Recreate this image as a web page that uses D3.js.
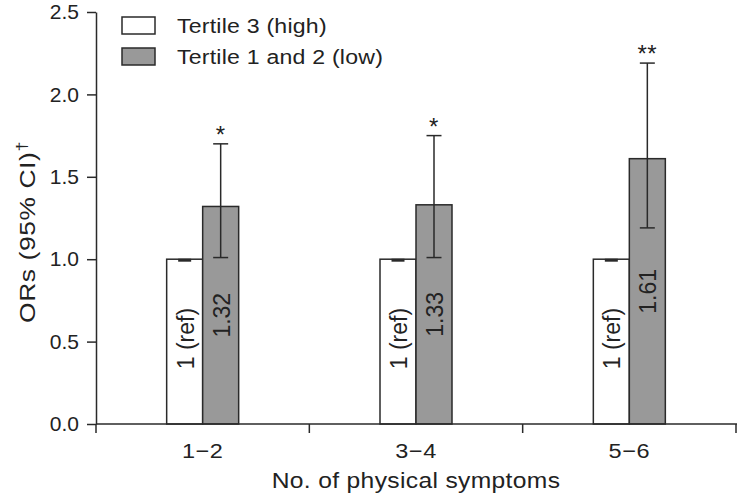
<!DOCTYPE html>
<html>
<head>
<meta charset="utf-8">
<script src="https://cdn.jsdelivr.net/npm/d3@7"></script>
<style>
  html, body { margin: 0; padding: 0; background: #fff; }
  svg { display: block; }
  text { font-family: "Liberation Sans", Arial, sans-serif; fill: #222; }
</style>
</head>
<body>
<svg id="chart" width="740" height="497"></svg>
<script>
// ---- data ----
const categories = ["1\u22122", "3\u22124", "5\u22126"];
const seriesNames = ["Tertile 3 (high)", "Tertile 1 and 2 (low)"];
const highValues = [1, 1, 1];
const lowValues = [1.32, 1.33, 1.61];
const highCILower = [1, 1, 1];
const highCIUpper = [1, 1, 1];
const lowCILower = [1.01, 1.01, 1.19];
const lowCIUpper = [1.70, 1.75, 2.19];
const highLabels = ["1 (ref)", "1 (ref)", "1 (ref)"];
const lowLabels = ["1.32", "1.33", "1.61"];
const significance = ["*", "*", "**"];
const yTicks = [0, 0.5, 1.0, 1.5, 2.0, 2.5];
const xTitle = "No. of physical symptoms";
const yTitle = "ORs (95% CI)";
const yTitleMark = "\u2020";

// ---- build table ----
const rows = [];
categories.forEach((c, i) => {
  rows.push({cat: c, series: seriesNames[0], value: highValues[i], lo: highCILower[i], hi: highCIUpper[i], label: highLabels[i], sig: null});
  rows.push({cat: c, series: seriesNames[1], value: lowValues[i], lo: lowCILower[i], hi: lowCIUpper[i], label: lowLabels[i], sig: significance[i]});
});

const fills = {[seriesNames[0]]: "#ffffff", [seriesNames[1]]: "#999999"};
const stroke = "#2a2a2a";
const wide = 1.12; // horizontal stretch of the wide sans face

const svg = d3.select("#chart");
const x0 = 96, x1 = 736, yTop = 12, yBot = 424;

const x = d3.scaleBand().domain(categories).range([x0, x1]).padding(0);
const xs = d3.scaleBand().domain(seriesNames).range([-36, 36]).padding(0);
const y = d3.scaleLinear().domain([0, 2.5]).range([yBot, yTop]);

// bars
const g = svg.append("g");
const bars = g.selectAll("g.bar").data(rows).join("g")
  .attr("transform", d => `translate(${x(d.cat) + x.bandwidth() / 2 + xs(d.series)},0)`);

bars.append("rect")
  .attr("x", 0)
  .attr("width", xs.bandwidth())
  .attr("y", d => y(d.value))
  .attr("height", d => y(0) - y(d.value))
  .attr("fill", d => fills[d.series])
  .attr("stroke", stroke)
  .attr("stroke-width", 1.5);

// error bars
const capW = 7.5;
const eb = bars.append("g")
  .attr("transform", `translate(${xs.bandwidth() / 2},0)`)
  .attr("stroke", stroke);
eb.filter(d => d.hi > d.lo).append("line")
  .attr("x1", 0).attr("x2", 0)
  .attr("y1", d => y(d.lo)).attr("y2", d => y(d.hi))
  .attr("stroke-width", 1.5);
eb.append("line")
  .attr("x1", d => d.hi > d.lo ? -capW : -6.5).attr("x2", d => d.hi > d.lo ? capW : 6.5)
  .attr("y1", d => y(d.hi) + (d.hi > d.lo ? 0 : 1)).attr("y2", d => y(d.hi) + (d.hi > d.lo ? 0 : 1))
  .attr("stroke-width", d => d.hi > d.lo ? 1.5 : 3);
eb.filter(d => d.hi > d.lo).append("line")
  .attr("x1", -capW).attr("x2", capW)
  .attr("y1", d => y(d.lo)).attr("y2", d => y(d.lo))
  .attr("stroke-width", 1.5);

// value labels inside bars (rotated)
bars.append("text")
  .attr("transform", d => `translate(${xs.bandwidth() / 2 + 1},${(y(0) + y(d.value)) / 2 - (d.value === 1 ? 3 : 0)}) rotate(-90)`)
  .attr("text-anchor", "middle")
  .attr("dominant-baseline", "central")
  .attr("font-size", 23)
  .text(d => d.label);

// significance marks
bars.filter(d => d.sig).append("text")
  .attr("x", xs.bandwidth() / 2)
  .attr("y", d => y(d.hi) - 1)
  .attr("text-anchor", "middle")
  .attr("font-size", 24)
  .attr("letter-spacing", 0.5)
  .text(d => d.sig);

// y axis
const yAxis = d3.axisLeft(y).tickValues(yTicks).tickFormat(d3.format(".1f")).tickSize(9).tickSizeOuter(0);
const ya = svg.append("g").attr("transform", `translate(${x0},0)`).call(yAxis);
ya.select(".domain").attr("stroke", stroke).attr("stroke-width", 1.5);
ya.selectAll(".tick line").attr("stroke", stroke).attr("stroke-width", 1.5);
ya.selectAll(".tick text").attr("font-size", 21).attr("x", -17).attr("fill", "#222")
  .style("font-family", '"Liberation Sans", Arial, sans-serif');

// x axis: boundaries ticks
const bounds = categories.map(c => x(c)).concat([x1]);
svg.append("line").attr("x1", x0).attr("x2", x1 + 1).attr("y1", yBot).attr("y2", yBot)
  .attr("stroke", stroke).attr("stroke-width", 1.5);
svg.selectAll("line.xt").data(bounds).join("line").attr("class", "xt")
  .attr("x1", d => d).attr("x2", d => d)
  .attr("y1", yBot).attr("y2", yBot + 9)
  .attr("stroke", stroke).attr("stroke-width", 1.5);
svg.selectAll("g.xl").data(categories).join("g").attr("class", "xl")
  .attr("transform", d => `translate(${x(d) + x.bandwidth() / 2},458) scale(${wide},1)`)
  .append("text")
  .attr("text-anchor", "middle")
  .attr("font-size", 21)
  .attr("letter-spacing", 0.5)
  .text(d => d);

// axis titles
svg.append("g")
  .attr("transform", `translate(${(x0 + x1) / 2},488) scale(${wide},1)`)
  .append("text")
  .attr("text-anchor", "middle")
  .attr("font-size", 22)
  .attr("letter-spacing", 0.3)
  .text(xTitle);

const yt = svg.append("g")
  .attr("transform", `translate(35,${(yBot + yTop) / 2 + 14}) rotate(-90) scale(${wide + 0.08},1)`)
  .append("text")
  .attr("text-anchor", "middle")
  .attr("font-size", 22)
  .attr("letter-spacing", 0.5);
yt.append("tspan").text(yTitle);
yt.append("tspan").attr("font-size", 15).attr("dy", -8).text(yTitleMark);

// legend
const legend = svg.append("g").selectAll("g").data(seriesNames).join("g")
  .attr("transform", (d, i) => `translate(122,${17 + i * 31})`);
legend.append("rect")
  .attr("width", 33).attr("height", 17)
  .attr("fill", d => fills[d]).attr("stroke", stroke).attr("stroke-width", 1.5);
legend.append("g")
  .attr("transform", `translate(55,16) scale(${wide - 0.02},1)`)
  .append("text")
  .attr("font-size", 21)
  .attr("letter-spacing", 0.2)
  .text(d => d);
</script>
</body>
</html>
